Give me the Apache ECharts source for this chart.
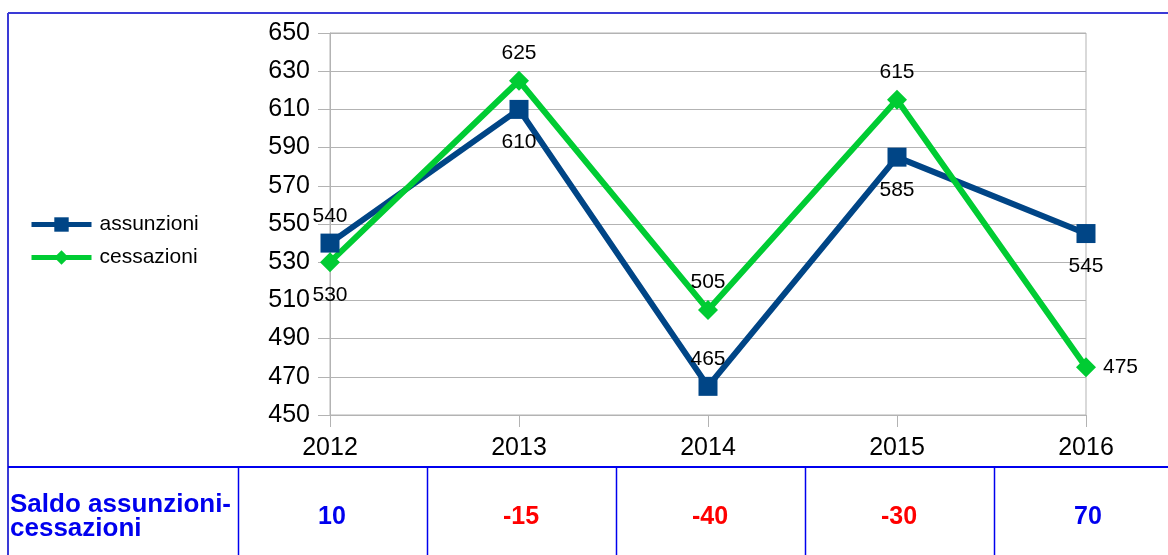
<!DOCTYPE html>
<html>
<head>
<meta charset="utf-8">
<script src="https://cdn.jsdelivr.net/npm/echarts@6/dist/echarts.min.js"></script>
<style>
  html, body { margin: 0; padding: 0; background: #fff; }
  #chart { width: 1168px; height: 555px; }
</style>
</head>
<body>
<div id="chart"></div>
<script>
// dati
const anni = ['2012', '2013', '2014', '2015', '2016']
const assunzioni = [540, 610, 465, 585, 545]
const cessazioni = [530, 625, 505, 615, 475]
const saldo = [10, -15, -40, -30, 70]
const saldoTitolo = 'Saldo assunzioni-\ncessazioni'

// posizione etichette (solo stile)
const posAssunzioni = ['top', 'bottom', 'top', 'bottom', 'bottom']
const posCessazioni = ['bottom', 'top', 'top', 'top', 'right']

const FONT = 'Liberation Sans'
const BLU = '#004586'
const VERDE = '#00cc33'
const GRIGIO = '#b3b3b3'

const mkData = (vals, pos) => vals.map((v, i) => ({
  value: v,
  label: { position: pos[i], distance: pos[i] === 'bottom' ? 13 : 7 }
}))

const lbl = {
  show: true,
  color: '#000',
  fontFamily: FONT,
  fontSize: 21,
}

const chart = echarts.init(document.getElementById('chart'))

const options = {
  animation: false,
  textStyle: { fontFamily: FONT },
  grid: {
    left: 330,
    right: 82,
    top: 33,
    bottom: 140,
    show: true,
    borderColor: GRIGIO,
    borderWidth: 1,
  },
  legend: {
    orient: 'vertical',
    left: 24,
    top: 209,
    itemWidth: 60,
    itemHeight: 18,
    itemGap: 12,
    lineStyle: { width: 5 },
    textStyle: { fontSize: 21, color: '#000', fontFamily: FONT, padding: [0, 0, 0, 3] },
    data: ['assunzioni', 'cessazioni'],
  },
  xAxis: {
    type: 'category',
    boundaryGap: false,
    data: anni,
    axisLine: { lineStyle: { color: GRIGIO } },
    axisTick: { show: true, length: 12, lineStyle: { color: GRIGIO } },
    axisLabel: { color: '#000', fontSize: 25, margin: 21, fontFamily: FONT },
    splitLine: { show: false },
  },
  yAxis: {
    type: 'value',
    min: 450,
    max: 650,
    interval: 20,
    axisLine: { show: true, lineStyle: { color: GRIGIO } },
    axisTick: { show: true, length: 12, lineStyle: { color: GRIGIO } },
    axisLabel: { color: '#000', fontSize: 25, margin: 20, fontFamily: FONT },
    splitLine: { show: true, lineStyle: { color: GRIGIO } },
  },
  series: [
    {
      name: 'assunzioni',
      type: 'line',
      data: mkData(assunzioni, posAssunzioni),
      symbol: 'rect',
      symbolSize: 19,
      color: BLU,
      lineStyle: { width: 6, color: BLU },
      itemStyle: { color: BLU },
      label: lbl,
    },
    {
      name: 'cessazioni',
      type: 'line',
      data: mkData(cessazioni, posCessazioni),
      symbol: 'diamond',
      symbolSize: 20,
      color: VERDE,
      lineStyle: { width: 6, color: VERDE },
      itemStyle: { color: VERDE },
      label: lbl,
    },
  ],
}
chart.setOption(options)

// tabella del saldo sotto il grafico
const xs = anni.map((a) => chart.convertToPixel({ xAxisIndex: 0 }, a))
const passo = xs[1] - xs[0]
const topTab = 467
const graphic = [
  // cornice blu
  { type: 'line', shape: { x1: 8, y1: 13, x2: 1168, y2: 13 }, style: { stroke: '#3a3ad6', lineWidth: 2 } },
  { type: 'line', shape: { x1: 8, y1: 13, x2: 8, y2: 555 }, style: { stroke: '#3a3ad6', lineWidth: 2 } },
  { type: 'line', shape: { x1: 8, y1: topTab, x2: 1168, y2: topTab }, style: { stroke: '#0000ee', lineWidth: 2 } },
  {
    type: 'text',
    left: 10,
    top: 492,
    style: {
      text: saldoTitolo,
      fill: '#0000ee',
      font: 'bold 26px "' + FONT + '"',
      lineHeight: 24,
    },
  },
]
xs.forEach((x, i) => {
  const xl = Math.round(x - passo / 2 + 2) + 0.5
  graphic.push({
    type: 'line',
    shape: { x1: xl, y1: topTab, x2: xl, y2: 555 },
    style: { stroke: '#0000ee', lineWidth: 1.5 },
  })
  graphic.push({
    type: 'text',
    x: x + 2,
    y: 517,
    style: {
      text: String(saldo[i]),
      fill: saldo[i] < 0 ? '#ff0000' : '#0000ee',
      font: 'bold 25px "' + FONT + '"',
      align: 'center',
      verticalAlign: 'middle',
    },
  })
})
chart.setOption({ graphic: graphic })

window.addEventListener('resize', function () {
  chart && chart.resize()
})
</script>
</body>
</html>
